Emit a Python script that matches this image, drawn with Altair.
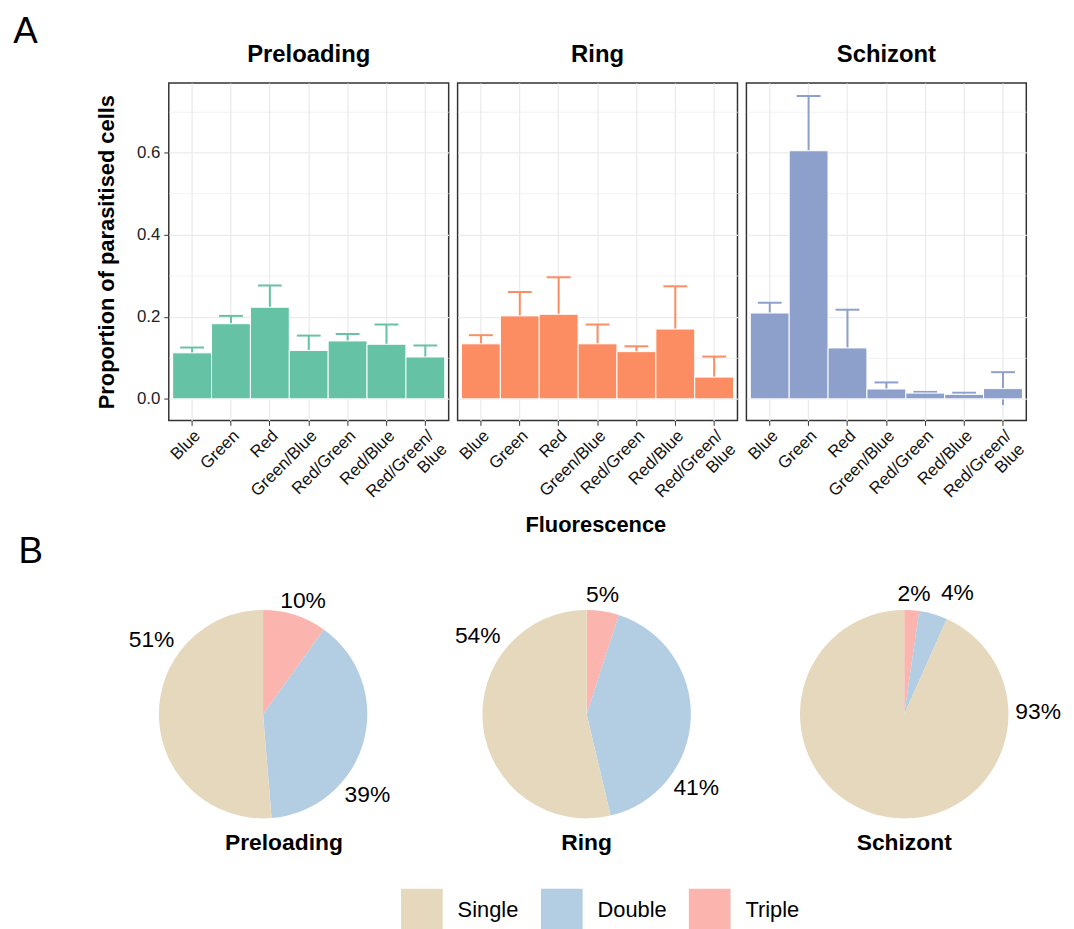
import math
import altair as alt
import pandas as pd

# ---------------- data ----------------
STAGES = ["Preloading", "Ring", "Schizont"]
FLUOR = ["Blue", "Green", "Red", "Green/Blue", "Red/Green", "Red/Blue", "Red/Green/Blue"]

PRELOADING_MEAN = [0.112, 0.183, 0.223, 0.118, 0.141, 0.133, 0.102]
PRELOADING_ERR = [0.013, 0.019, 0.053, 0.036, 0.017, 0.048, 0.028]
RING_MEAN = [0.134, 0.202, 0.206, 0.134, 0.115, 0.170, 0.053]
RING_ERR = [0.021, 0.058, 0.090, 0.047, 0.013, 0.104, 0.050]
SCHIZONT_MEAN = [0.209, 0.604, 0.124, 0.024, 0.014, 0.011, 0.025]
SCHIZONT_ERR = [0.025, 0.133, 0.093, 0.016, 0.003, 0.004, 0.040]

TYPES = ["Single", "Double", "Triple"]
PIE_PRELOADING = [51.3, 38.8, 9.9]
PIE_RING = [53.7, 41.3, 5.0]
PIE_SCHIZONT = [93.3, 4.4, 2.3]

# ---------------- layout / style ----------------
BAR_COLORS = ["#66C2A5", "#FC8D62", "#8DA0CB"]
PIE_COLORS = ["#E5D8BD", "#B3CDE3", "#FBB4AE"]
SLICE_ORDER = {"Triple": 0, "Double": 1, "Single": 2}
# angular nudge of the percentage labels (percent of a full turn), order as TYPES
LABEL_NUDGE = {
    "Preloading": [10.0, 6.2, 0.45],
    "Ring": [11.75, 8.75, -0.4],
    "Schizont": [-28.65, 2.1, 0.15],
}
LABEL_RADIUS = {"Single": 135, "Double": 133, "Triple": 121}
PIE_RADIUS = 105
PIE_HEIGHT = 210
PIE_WIDTHS = {"Preloading": 190, "Ring": 210, "Schizont": 178}
FONT = "Liberation Sans"
NB = "\u00a0" * 11  # keeps the wrapped second line left-justified

means = {"Preloading": PRELOADING_MEAN, "Ring": RING_MEAN, "Schizont": SCHIZONT_MEAN}
errs = {"Preloading": PRELOADING_ERR, "Ring": RING_ERR, "Schizont": SCHIZONT_ERR}
rows = []
for s in STAGES:
    for f, m, e in zip(FLUOR, means[s], errs[s]):
        rows.append({"Stage": s, "Fluor": f, "mean": m, "lo": m - e, "hi": m + e})
bar_df = pd.DataFrame(rows)

pies = {"Preloading": PIE_PRELOADING, "Ring": PIE_RING, "Schizont": PIE_SCHIZONT}

# ---------------- panel A ----------------
MINOR = "round(datum.value*10) % 2 == 1"
y_axis = alt.Axis(
    title="Proportion of parasitised cells",
    values=[0, 0.1, 0.2, 0.3, 0.4, 0.5, 0.6, 0.7],
    labelExpr=MINOR + " ? '' : format(datum.value, '.1f')",
    tickOpacity={"condition": {"test": MINOR, "value": 0}, "value": 1},
    gridWidth={"condition": {"test": MINOR, "value": 0.7}, "value": 1.3},
    gridColor="#EBEBEB",
    domain=False,
    tickSize=5,
    tickColor="#333333",
    labelFontSize=17,
    labelColor="#222222",
    labelPadding=4,
    titleFontSize=22,
    titleFontWeight="bold",
    titleColor="black",
    titlePadding=18,
)
y_scale = alt.Scale(domain=[-0.0524, 0.769], nice=False, zero=False)

x_enc = alt.X(
    "Fluor:N",
    sort=FLUOR,
    scale=alt.Scale(paddingInner=0, paddingOuter=0.1),
    axis=alt.Axis(
        title=None,
        labelAngle=-45,
        labelAlign="right",
        labelBaseline="top",
        bandPosition=0.5,
        grid=True,
        gridColor="#EBEBEB",
        gridWidth=1.3,
        domain=False,
        tickSize=5,
        tickColor="#333333",
        labelFontSize=17,
        labelColor="#111111",
        labelLineHeight=19,
        labelExpr="datum.label == 'Red/Green/Blue' ? ['Red/Green/', 'Blue" + NB + "'] : datum.label",
    ),
)
color_enc = alt.Color("Stage:N", scale=alt.Scale(domain=STAGES, range=BAR_COLORS), legend=None)

err = alt.Chart().mark_rule(strokeWidth=2).encode(
    x=x_enc,
    y=alt.Y("lo:Q", scale=y_scale, axis=y_axis),
    y2="hi:Q",
    color=color_enc,
)
cap = alt.Chart().mark_tick(thickness=2, size=24, opacity=1).encode(
    x=x_enc,
    y=alt.Y("hi:Q", axis=y_axis),
    color=color_enc,
)
bar = alt.Chart().mark_bar(stroke="white", strokeWidth=1, opacity=1).encode(
    x=x_enc,
    y=alt.Y("mean:Q", axis=y_axis),
    color=color_enc,
)

panel = alt.layer(err, cap, bar, data=bar_df).properties(
    width=282, height=340,
    view=alt.ViewBackground(stroke="#333333", strokeWidth=1.5),
)
facet = panel.facet(
    column=alt.Column(
        "Stage:N",
        sort=STAGES,
        header=alt.Header(
            title=None,
            labelFontSize=24,
            labelFontWeight="bold",
            labelColor="black",
            labelPadding=16,
        ),
    ),
    spacing=9,
    bounds="flush",
).properties(
    title=alt.Title("Fluorescence", orient="bottom", anchor="start", frame="bounds",
                    fontSize=22, fontWeight="bold", color="black", offset=2, dx=433)
)

chart_a = alt.vconcat(
    facet,
    title=alt.Title("A", anchor="start", frame="bounds", fontSize=37, fontWeight="normal",
                    color="black", offset=-8, dx=-83),
)

# ---------------- panel B ----------------
def pie_chart(stage, title_dx):
    vals = pies[stage]
    recs = []
    for t, v, n in zip(TYPES, vals, LABEL_NUDGE[stage]):
        recs.append({"Type": t, "value": v, "ord": SLICE_ORDER[t], "nudge": n,
                     "lab_r": LABEL_RADIUS[t]})
    d = pd.DataFrame(recs).sort_values("ord")
    d["start"] = d["value"].cumsum() - d["value"]
    total = d["value"].sum()
    d["lab_theta"] = 2 * math.pi * ((d["start"] + d["value"] / 2 + d["nudge"]) / total)
    base = alt.Chart(d)
    arc = base.mark_arc(strokeWidth=0, radius=PIE_RADIUS).encode(
        theta=alt.Theta("value:Q", stack=True),
        color=alt.Color(
            "Type:N",
            scale=alt.Scale(domain=TYPES, range=PIE_COLORS),
            legend=alt.Legend(
                title=None, orient="none", direction="horizontal",
                legendX=234, legendY=281,
                symbolType="square", symbolSize=1764, symbolStrokeWidth=0,
                symbolOpacity=1, labelFontSize=22, labelColor="black",
                labelOffset=15, columnPadding=22, labelLimit=0,
            ),
        ),
        order=alt.Order("ord:Q"),
    )
    text = base.transform_calculate(
        label="format(datum.value, '.0f') + '%'"
    ).mark_text(fontSize=23, color="black").encode(
        theta=alt.Theta("lab_theta:Q", scale=None, stack=None),
        radius=alt.Radius("lab_r:Q", scale=None),
        text="label:N",
    )
    return alt.layer(arc, text).resolve_scale(theta="independent", radius="independent").properties(
        width=PIE_WIDTHS[stage], height=PIE_HEIGHT,
        title=alt.Title(stage, orient="bottom", fontSize=23, fontWeight="bold",
                        color="black", offset=14, dx=title_dx),
    )

chart_b = alt.hconcat(
    pie_chart("Preloading", 21),
    pie_chart("Ring", 0),
    pie_chart("Schizont", 0),
    spacing=126,
    bounds="flush",
    title=alt.Title("B", anchor="start", frame="bounds", fontSize=37, fontWeight="normal",
                    color="black", offset=12, dx=-111),
)

chart = alt.vconcat(chart_a, chart_b, spacing=-4).resolve_scale(color="independent").properties(
    padding={"left": 5, "top": 2, "right": 5, "bottom": 5}
).configure(font=FONT).configure_view(stroke=None)

chart.save("out.html", embed_options={"renderer": "svg", "actions": False})
